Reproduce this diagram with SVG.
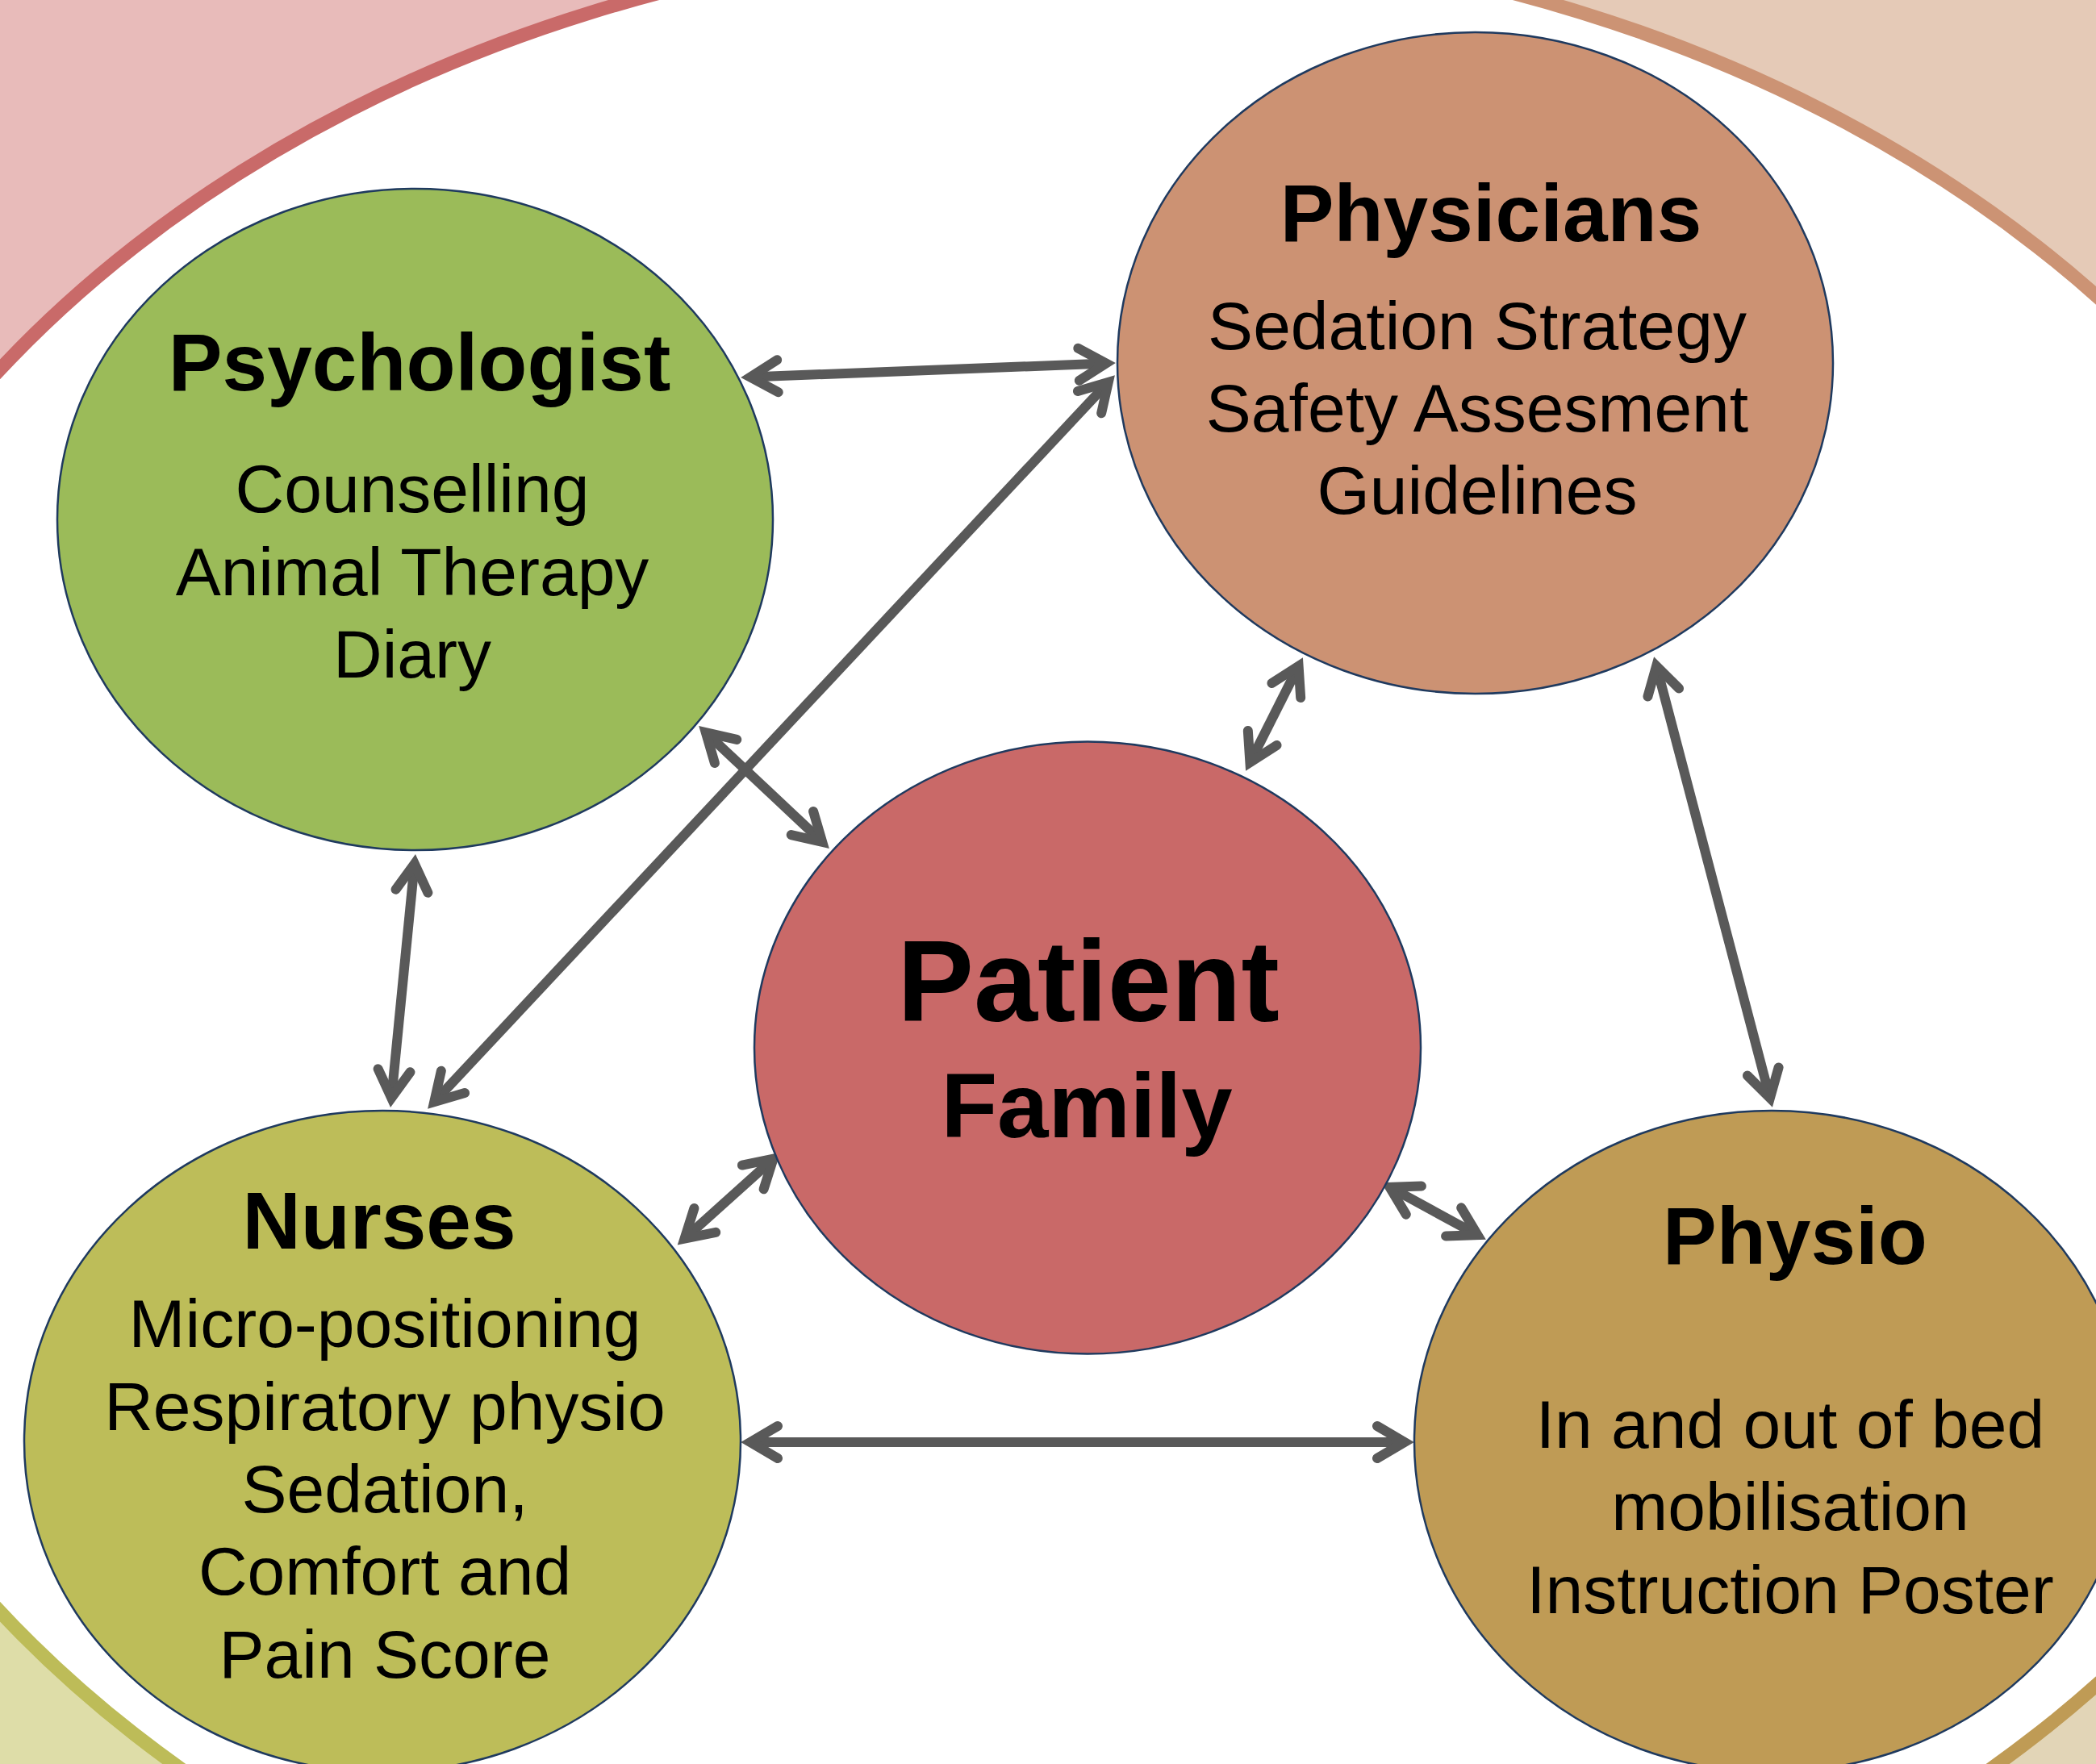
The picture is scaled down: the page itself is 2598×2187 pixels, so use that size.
<svg xmlns="http://www.w3.org/2000/svg" width="2598" height="2187" viewBox="0 0 2598 2187">
  <style>
    .node { stroke: #1F3A5F; stroke-width: 2.5; }
    .title { font-family: "Liberation Sans", Arial, sans-serif; font-weight: bold; font-size: 100px; fill: #000; text-anchor: middle; }
    .title.big { font-size: 142px; }
    .title.mid { font-size: 114px; }
    .body { font-family: "Liberation Sans", Arial, sans-serif; font-size: 84px; fill: #000; text-anchor: middle; }
    .conn { fill: none; stroke: #595959; stroke-width: 12; marker-start: url(#chev); marker-end: url(#chev); }
    .band { fill: none; stroke-width: 17; }
  </style>
  <defs>
    <marker id="chev" markerUnits="userSpaceOnUse" orient="auto-start-reverse" viewBox="-60 -40 80 80" markerWidth="80" markerHeight="80" refX="0" refY="0" overflow="visible">
      <path d="M-34,-20 L0,0 L-34,20" fill="none" stroke="#595959" stroke-width="12" stroke-linecap="round" stroke-linejoin="miter"/>
    </marker>
  </defs>

  <!-- corner backgrounds outside the large ring -->
  <g id="background">
    <rect x="0" y="0" width="1346" height="1228" fill="#E8BBBA"/>
    <rect x="1346" y="0" width="1252" height="1228" fill="#E5CAB7"/>
    <rect x="0" y="1228" width="1346" height="959" fill="#DEDDA8"/>
    <rect x="1346" y="1228" width="1252" height="959" fill="#E2D5B7"/>
    <ellipse cx="1346" cy="1228" rx="1668" ry="1304" fill="#FFFFFF"/>
    <path class="band" stroke="#C96A69" d="M-322,1228 A1668,1304 0 0 1 1346,-76"/>
    <path class="band" stroke="#CC9374" d="M1346,-76 A1668,1304 0 0 1 3014,1228"/>
    <path class="band" stroke="#BF9B55" d="M3014,1228 A1668,1304 0 0 1 1346,2532"/>
    <path class="band" stroke="#BDBC58" d="M1346,2532 A1668,1304 0 0 1 -322,1228"/>
  </g>

  <!-- connectors: double-headed arrows between the roles -->
  <g id="connectors">
    <path class="conn" d="M930,467.5 L1371,450.5"/>
    <path class="conn" d="M538.2,1366.2 L1373.8,473.8"/>
    <path class="conn" d="M874.8,908.2 L1019.2,1043.8"/>
    <path class="conn" d="M1549.4,945.3 L1609.6,825.7"/>
    <path class="conn" d="M2053.1,825.6 L2193.9,1361.4"/>
    <path class="conn" d="M513.8,1070.9 L485.2,1361.1"/>
    <path class="conn" d="M848.5,1535.7 L958.5,1436.7"/>
    <path class="conn" d="M1722.5,1471.8 L1831.5,1531.2"/>
    <path class="conn" d="M930,1788 L1741,1788"/>
  </g>

  <g id="psychologist">
    <ellipse class="node" cx="514.5" cy="644" rx="443.5" ry="410" fill="#9BBB59"/>
    <text class="title" x="520" y="484">Psychologist</text>
    <text class="body" x="511" y="635">Counselling</text>
    <text class="body" x="511" y="738">Animal Therapy</text>
    <text class="body" x="511" y="840">Diary</text>
  </g>

  <g id="physicians">
    <ellipse class="node" cx="1828.5" cy="450" rx="443.5" ry="410" fill="#CC9273"/>
    <text class="title" x="1848" y="299">Physicians</text>
    <text class="body" x="1831" y="433">Sedation Strategy</text>
    <text class="body" x="1831" y="535">Safety Assesment</text>
    <text class="body" x="1831" y="637">Guidelines</text>
  </g>

  <g id="patient">
    <ellipse class="node" cx="1348" cy="1299" rx="413" ry="379.5" fill="#C96968"/>
    <text class="title big" x="1349" y="1266">Patient</text>
    <text class="title mid" x="1347" y="1410">Family</text>
  </g>

  <g id="nurses">
    <ellipse class="node" cx="474" cy="1787" rx="444" ry="410" fill="#BDBD59"/>
    <text class="title" x="470" y="1548">Nurses</text>
    <text class="body" x="477" y="1670">Micro-positioning</text>
    <text class="body" x="477" y="1773">Respiratory physio</text>
    <text class="body" x="477" y="1875">Sedation,</text>
    <text class="body" x="477" y="1977">Comfort and</text>
    <text class="body" x="477" y="2080">Pain Score</text>
  </g>

  <g id="physio">
    <ellipse class="node" cx="2196" cy="1787" rx="443" ry="410" fill="#BF9B55"/>
    <text class="title" x="2225" y="1567">Physio</text>
    <text class="body" x="2219" y="1795">In and out of bed</text>
    <text class="body" x="2219" y="1897">mobilisation</text>
    <text class="body" x="2219" y="2000">Instruction Poster</text>
  </g>
</svg>
